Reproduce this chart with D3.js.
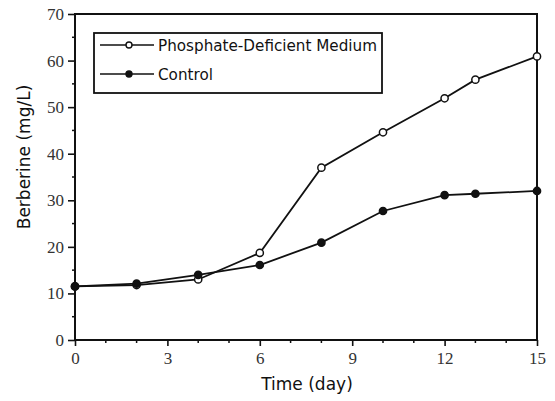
<!DOCTYPE html>
<html>
<head>
<meta charset="utf-8">
<script src="https://cdn.jsdelivr.net/npm/d3@7"></script>
<style>
  body { margin: 0; background: #fff; }
  .tick text { font-family: "Liberation Serif", serif; font-size: 17px; fill: #333; }
  .title { font-family: "DejaVu Sans", sans-serif; font-size: 17px; fill: #111; }
  .legend text { font-family: "DejaVu Sans", sans-serif; font-size: 15.2px; fill: #111; }
</style>
</head>
<body>
<div id="chart"></div>
<script>
const width = 555;
const height = 401;

// days and berberine (mg/L)
const days = [0, 2, 4, 6, 8, 10, 12, 13, 15];
const phosphateDeficient = [11.5, 11.8, 13.0, 18.7, 37.0, 44.6, 51.9, 55.9, 60.9];
const control = [11.5, 12.1, 14.0, 16.1, 20.9, 27.7, 31.1, 31.4, 32.0];

const xTicks = [0, 3, 6, 9, 12, 15];
const yTicks = [0, 10, 20, 30, 40, 50, 60, 70];

const seriesNames = ["Phosphate-Deficient Medium", "Control"];

const margin = {top: 14, right: 18, bottom: 61, left: 75};

const x = d3.scaleLinear().domain([0, 15]).range([margin.left, width - margin.right]);
const y = d3.scaleLinear().domain([0, 70]).range([height - margin.bottom, margin.top]);

const svg = d3.select("#chart").append("svg")
    .attr("width", width)
    .attr("height", height);

// frame
svg.append("rect")
    .attr("x", x(0))
    .attr("y", y(70))
    .attr("width", x(15) - x(0))
    .attr("height", y(0) - y(70))
    .attr("fill", "none")
    .attr("stroke", "#111")
    .attr("stroke-width", 2);

// y axis
const yAxis = svg.append("g")
    .attr("transform", `translate(${x(0)},0)`)
    .call(d3.axisLeft(y).tickValues(yTicks).tickSize(7).tickPadding(4));
yAxis.select(".domain").remove();
yAxis.selectAll("line").attr("stroke", "#111").attr("stroke-width", 1.6);

// minor y ticks
svg.append("g").selectAll("line")
    .data(d3.range(5, 70, 10))
    .join("line")
    .attr("x1", x(0) - 3).attr("x2", x(0))
    .attr("y1", d => y(d)).attr("y2", d => y(d))
    .attr("stroke", "#111").attr("stroke-width", 1.5);

// x axis
const xAxis = svg.append("g")
    .attr("transform", `translate(0,${y(0)})`)
    .call(d3.axisBottom(x).tickValues(xTicks).tickSize(6).tickPadding(6));
xAxis.select(".domain").remove();
xAxis.selectAll("line").attr("stroke", "#111").attr("stroke-width", 1.6);

// minor x ticks
svg.append("g").selectAll("line")
    .data(d3.range(0, 16).filter(d => d % 3 !== 0))
    .join("line")
    .attr("x1", d => x(d)).attr("x2", d => x(d))
    .attr("y1", y(0)).attr("y2", y(0) + 3)
    .attr("stroke", "#111").attr("stroke-width", 1.5);

// axis titles
svg.append("text")
    .attr("class", "title")
    .attr("x", 307)
    .attr("y", 390)
    .attr("text-anchor", "middle")
    .text("Time (day)");

svg.append("text")
    .attr("class", "title")
    .attr("transform", `translate(30,157) rotate(-90)`)
    .attr("text-anchor", "middle")
    .text("Berberine (mg/L)");

// lines
const line = d3.line()
    .x((d, i) => x(days[i]))
    .y(d => y(d));

[phosphateDeficient, control].forEach((vals, k) => {
    svg.append("path")
        .datum(vals)
        .attr("d", line)
        .attr("fill", "none")
        .attr("stroke", "#111")
        .attr("stroke-width", 1.8);

    svg.append("g").selectAll("circle")
        .data(vals)
        .join("circle")
        .attr("cx", (d, i) => x(days[i]))
        .attr("cy", d => y(d))
        .attr("r", 3.6)
        .attr("fill", k === 0 ? "#fff" : "#111")
        .attr("stroke", "#111")
        .attr("stroke-width", 1.5);
});

// legend
const legend = svg.append("g").attr("class", "legend");
legend.append("rect")
    .attr("x", 94).attr("y", 33)
    .attr("width", 288).attr("height", 60)
    .attr("fill", "#fff")
    .attr("stroke", "#111")
    .attr("stroke-width", 1.8);

seriesNames.forEach((name, k) => {
    const ly = 45 + k * 29;
    legend.append("line")
        .attr("x1", 100).attr("x2", 154)
        .attr("y1", ly).attr("y2", ly)
        .attr("stroke", "#111").attr("stroke-width", 1.6);
    legend.append("circle")
        .attr("cx", 129).attr("cy", ly)
        .attr("r", 3)
        .attr("fill", k === 0 ? "#fff" : "#111")
        .attr("stroke", "#111").attr("stroke-width", 1.4);
    legend.append("text")
        .attr("x", 158).attr("y", ly + 5.5)
        .text(name);
});
</script>
</body>
</html>
